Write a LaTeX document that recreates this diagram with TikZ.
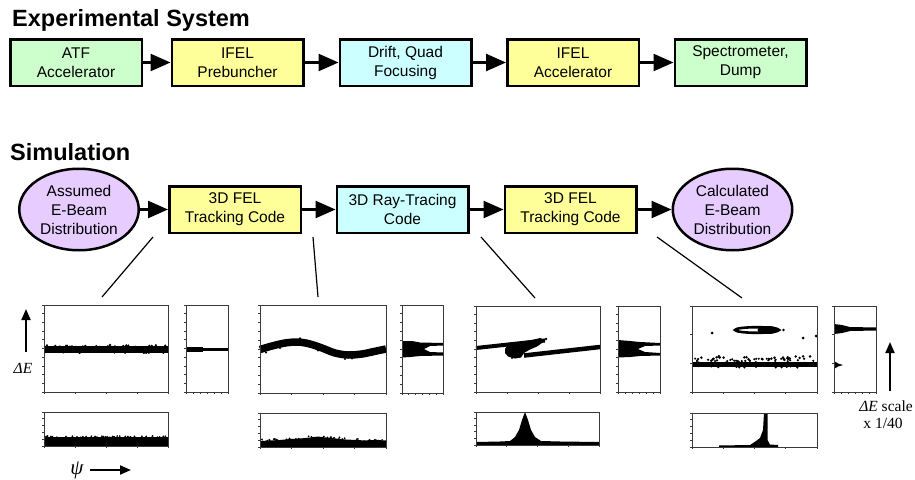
\documentclass[tikz,border=0pt]{standalone}
\usepackage{fontspec}
\setmainfont{Liberation Sans}
\newfontfamily\serifx{Liberation Serif}
\usetikzlibrary{arrows.meta,shapes.geometric}

\definecolor{cgreen}{HTML}{CCFFCC}
\definecolor{cyellow}{HTML}{FFFF99}
\definecolor{ccyan}{HTML}{CCFFFF}
\definecolor{cpurple}{HTML}{E6CCFF}
\definecolor{axisgray}{HTML}{3A3A3A}

\tikzset{
 blk/.style={draw=black, line width=2.5pt, minimum width=131.5pt, minimum height=46.5pt,
   inner sep=0pt, align=center, font=\fontsize{15.5}{19}\selectfont},
 oval/.style={ellipse, draw=black, line width=2.5pt, fill=cpurple, minimum width=119.5pt,
   minimum height=81.5pt, inner sep=0pt, align=center, font=\fontsize{15.5}{19}\selectfont},
 flow/.style={line width=2.5pt, -{Triangle[length=20pt,width=17pt]}},
 link/.style={line width=1.2pt},
 pframe/.style={draw=axisgray, line width=1pt},
 ptick/.style={draw=axisgray, line width=0.7pt},
 title/.style={font=\fontsize{23.5}{27}\selectfont\bfseries, anchor=base west, inner sep=0pt},
 axarrow/.style={line width=2pt, -{Triangle[length=11pt,width=9pt]}},
 lbl/.style={font=\fontsize{15.5}{17}\selectfont\serifx, inner sep=0pt, align=center},
}

\newcommand\plotbox[6]{%
 \draw[pframe] (#1,#2) rectangle (#3,#4);
 \foreach \k in {0,...,#5}{\draw[ptick] (#1,{#2+(#4-#2)*\k/#5}) -- ++(-2.2,0);}
 \foreach \k in {0,...,#6}{\draw[ptick] ({#1+(#3-#1)*\k/#6},#4) -- ++(0,2.2);}
}

\begin{document}
\begin{tikzpicture}[x=1pt,y=-1pt]
\useasboundingbox (0,0) rectangle (915,479);
\fill[white] (0,0) rectangle (915,479);
\pgfmathsetseed{11}

% ---------- titles
\node[title] (t1) at (12,27) {Experimental System};
\node[title] (t2) at (10,160.5) {Simulation};

% ---------- experimental system
\node[blk, fill=cgreen]  (e1) at (76,62.5)    {ATF\\Accelerator};
\node[blk, fill=cyellow] (e2) at (237.5,62.5) {IFEL\\Prebuncher};
\node[blk, fill=ccyan]   (e3) at (405.5,62.5) {Drift, Quad\\Focusing};
\node[blk, fill=cyellow] (e4) at (573,62.5)   {IFEL\\Accelerator};
\node[blk, fill=cgreen]  (e5) at (740.5,62.5) {Spectrometer,\\Dump};
\draw[flow] (e1) -- (e2);
\draw[flow] (e2) -- (e3);
\draw[flow] (e3) -- (e4);
\draw[flow] (e4) -- (e5);

% ---------- simulation
\node[oval] (s1) at (79,209.5) {Assumed\\E-Beam\\Distribution};
\node[blk, fill=cyellow] (s2) at (235,209.5)   {3D FEL\\Tracking Code};
\node[blk, fill=ccyan]   (s3) at (402.5,209.5) {3D Ray-Tracing\\Code};
\node[blk, fill=cyellow] (s4) at (570.5,209.5) {3D FEL\\Tracking Code};
\node[oval] (s5) at (732.5,209.5) {Calculated\\E-Beam\\Distribution};
\draw[flow] (s1) -- (s2);
\draw[flow] (s2) -- (s3);
\draw[flow] (s3) -- (s4);
\draw[flow] (s4) -- (s5);

% ---------- link lines
\coordinate (la) at (153,237); \coordinate (pa) at (102,297);
\coordinate (lb) at (313,237); \coordinate (pb) at (318,297);
\coordinate (lc) at (481,237); \coordinate (pc) at (535,298);
\coordinate (ld) at (657,237); \coordinate (pd) at (742,298);
\draw[link] (la) -- (pa);
\draw[link] (lb) -- (pb);
\draw[link] (lc) -- (pc);
\draw[link] (ld) -- (pd);

% ================= plot set 1
\fill (44,346) rectangle (168,352.5);
\foreach \i in {1,...,110}{\pgfmathsetmacro\xx{45.5+121*rnd}\pgfmathsetmacro\yy{349.2+8*(rnd-0.5)}\fill (\xx,\yy) circle (1.15);}
\fill (110,345) circle (1.3) (115,346) circle (1);
\fill (186,346.5) rectangle (203,352);
\fill (203,348) rectangle (228,350.5);
\fill (44,437) rectangle (168,446);
\foreach \i in {1,...,50}{\pgfmathsetmacro\xx{45.5+121*rnd}\pgfmathsetmacro\yy{437+2*(rnd-0.5)}\fill (\xx,\yy) circle (1);}
\plotbox{44}{305}{168}{392}{10}{4}
\plotbox{186}{305}{228}{392}{10}{6}
\plotbox{44}{412}{168}{446}{5}{4}

% ================= plot set 2
\draw[line width=7.5pt] plot[smooth] coordinates {(260,349.5) (272,346) (285,343) (298,342) (310,344) (322,348) (335,353) (348,355) (362,354) (374,351.5) (386,349)};
\fill (300,338.5) circle (1.4) (307,340.5) circle (1.2) (345,359) circle (1.2) (352,358.5) circle (1.1) (318,350.5) circle (1.2) (280,348) circle (1.1) (266,352.5) circle (1.1) (372,355) circle (1.1);
\fill (402,341) -- (412,341) -- (420,342.5) -- (443,343) -- (443,345.5) -- (430,346) -- (424,349) -- (430,352) -- (443,352.5) -- (443,355.5) -- (420,356) -- (410,357) -- (402,357.5) -- cycle;
\fill (260,447) -- (260,441) -- (270,440.5) -- (280,440) -- (290,439) -- (300,438.5) -- (310,437.5) -- (318,436.5) -- (326,437.5) -- (336,438.5) -- (346,439.5) -- (356,440) -- (366,440.5) -- (376,440) -- (386,440.5) -- (386,447) -- cycle;
\foreach \i in {1,...,45}{\pgfmathsetmacro\xx{262+122*rnd}\pgfmathsetmacro\yy{440.5-3.5*exp(-((\xx-318)/30)^2)+2.2*(rnd-0.5)}\fill (\xx,\yy) circle (1);}
\plotbox{260}{305}{386}{393}{10}{4}
\plotbox{402}{305}{443}{393}{10}{6}
\plotbox{260}{413}{386}{447}{5}{4}

% ================= plot set 3
\draw[line width=4pt] (476,348) -- (545,340.5);
\draw[line width=4.5pt] (524,355.5) -- (600,347);
\fill (505,349) -- (508,344) -- (520,342) -- (532,340) -- (540,338) -- (544,339.5) -- (542,343) -- (537,346.5) -- (530,349.5) -- (524,353) -- (521,357.5) -- (515,358.5) -- (508,356.5) -- (505,353) -- cycle;
\fill (546,339) circle (1.4) (512,358) circle (1.1) (531,356) circle (1.1);
\fill (618,340) -- (630,341) -- (640,342) -- (660,343) -- (660,345.5) -- (645,346) -- (638,349) -- (645,352) -- (660,353) -- (660,355.5) -- (640,356) -- (630,357) -- (618,357.5) -- cycle;
\fill (476,445) -- (476,442) -- (500,441.5) -- (510,441) -- (515,437) -- (519,430) -- (522,420) -- (525,412) -- (528,420) -- (531,430) -- (535,437) -- (541,441) -- (560,441.5) -- (599,442) -- (599,445) -- cycle;
\plotbox{476}{306}{600}{392}{10}{4}
\plotbox{618}{306}{660}{392}{10}{6}
\plotbox{476}{412}{599}{445}{5}{4}

% ================= plot set 4
\draw[line width=2.6pt] (757,330) ellipse [x radius=22, y radius=2.8];
\fill (768,330) ellipse [x radius=10.5, y radius=4];
\fill (783.5,330) circle (1.4) (712,333) circle (1.5) (803,338) circle (1.5) (816,336) circle (1.5);
\fill (692,361.5) rectangle (817,367);
\foreach \i in {1,...,90}{\pgfmathsetmacro\xx{694+121*rnd}\pgfmathsetmacro\yy{364+9*(rnd-0.6)}\fill (\xx,\yy) circle (1.2);}
\foreach \i in {1,...,22}{\pgfmathsetmacro\xx{696+117*rnd}\pgfmathsetmacro\yy{355.5+4*rnd}\fill (\xx,\yy) circle (1.4);}
\fill (834,324) -- (842,325) -- (850,327) -- (876,327.5) -- (876,330.5) -- (850,331) -- (842,333) -- (834,334) -- cycle;
\fill (834,361) -- (838,363.5) -- (843,365) -- (838,366.5) -- (834,369) -- cycle;
\fill (719,447) -- (719,445.5) -- (750,445) -- (756,441) -- (760,438) -- (763,430) -- (764,413) -- (767.5,413) -- (767.5,440) -- (770,444.5) -- (778,445) -- (778,447) -- cycle;
\plotbox{692}{306}{817}{392}{3}{4}
\plotbox{834}{306}{876}{392}{3}{6}
\plotbox{692}{413}{817}{447}{5}{4}

% ---------- axis indicators
\coordinate (ea) at (26,352); \coordinate (eb) at (26,309);
\draw[axarrow] (ea) -- (eb);
\node[lbl, anchor=base] (de) at (23,373) {\itshape ΔE};
\node[lbl, anchor=base, font=\fontsize{21}{23}\selectfont\serifx] (psi) at (77,474) {\itshape ψ};
\coordinate (pa1) at (90,470); \coordinate (pa2) at (131,470);
\draw[axarrow] (pa1) -- (pa2);
\coordinate (ra1) at (890,391); \coordinate (ra2) at (890,342);
\draw[axarrow] (ra1) -- (ra2);
\node[lbl, anchor=base] (sc1) at (886,411) {\itshape ΔE\upshape{} scale};
\node[lbl, anchor=base] (sc2) at (883,428) {x 1/40};
\end{tikzpicture}
\end{document}
